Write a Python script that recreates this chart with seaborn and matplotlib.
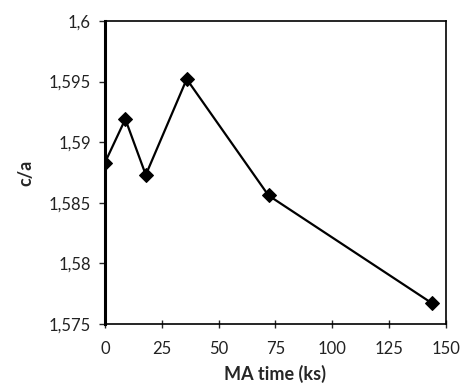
import matplotlib
matplotlib.use("Agg")
import matplotlib.pyplot as plt
import seaborn as sns
import pandas as pd

sns.set_style("white")
plt.rcParams["font.family"] = ["Lato", "DejaVu Sans"]

ma_time = [0, 9, 18, 36, 72, 144]
c_over_a = [1.5883, 1.5919, 1.5873, 1.5952, 1.5856, 1.5767]

x_ticks = [0, 25, 50, 75, 100, 125, 150]
y_ticks = [1.575, 1.58, 1.585, 1.59, 1.595, 1.6]
y_tick_labels = ["1,575", "1,58", "1,585", "1,59", "1,595", "1,6"]

df = pd.DataFrame({"time": ma_time, "ca": c_over_a})

fig = plt.figure(figsize=(4.62, 3.88), dpi=100)
ax = fig.add_axes([0.227, 0.165, 0.738, 0.781])

sns.lineplot(
    data=df, x="time", y="ca", ax=ax,
    color="black", linewidth=1.6,
    marker="D", markersize=7, markeredgecolor="black"
)

ax.set_xlim(0, 150)
ax.set_ylim(1.575, 1.6)
ax.set_xticks(x_ticks)
ax.set_xticklabels([str(t) for t in x_ticks], fontsize=12, color="#222222")
ax.set_yticks(y_ticks)
ax.set_yticklabels(y_tick_labels, fontsize=12, color="#222222")

for side in ["top", "right", "bottom", "left"]:
    ax.spines[side].set_color("black")
    ax.spines[side].set_linewidth(1.2)
ax.spines["left"].set_linewidth(2.2)

ax.tick_params(axis="y", direction="out", length=4, width=1, pad=6, left=True)
ax.tick_params(axis="x", direction="inout", length=6, width=1, pad=9, bottom=True)

ax.set_xlabel("MA time (ks)", fontsize=13, fontweight="bold", labelpad=6)
ax.set_ylabel("c/a", fontsize=13, fontweight="bold", labelpad=10)

fig.savefig("out.png", dpi=100)
plt.close(fig)
